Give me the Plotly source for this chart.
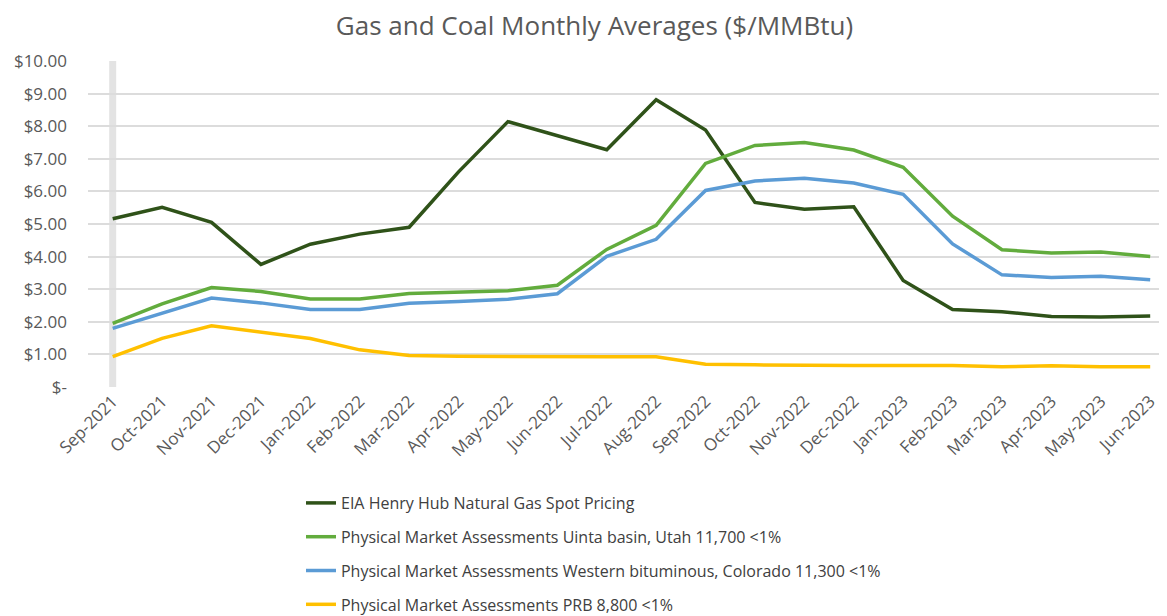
# Promedios mensuales de gas y carbon
import plotly.graph_objects as go

# Datos
months = [
    'Sep-2021', 'Oct-2021', 'Nov-2021', 'Dec-2021', 'Jan-2022', 'Feb-2022',
    'Mar-2022', 'Apr-2022', 'May-2022', 'Jun-2022', 'Jul-2022', 'Aug-2022',
    'Sep-2022', 'Oct-2022', 'Nov-2022', 'Dec-2022', 'Jan-2023', 'Feb-2023',
    'Mar-2023', 'Apr-2023', 'May-2023', 'Jun-2023'
]

henry_hub = [5.16, 5.51, 5.05, 3.76, 4.38, 4.69, 4.90, 6.60, 8.14, 7.70, 7.28,
             8.81, 7.88, 5.66, 5.45, 5.53, 3.27, 2.38, 2.31, 2.16, 2.15, 2.18]
uinta = [1.95, 2.55, 3.05, 2.93, 2.70, 2.70, 2.87, 2.90, 2.95, 3.12, 4.22,
         4.96, 6.86, 7.41, 7.50, 7.27, 6.74, 5.24, 4.21, 4.11, 4.14, 4.00]
western = [1.80, 2.27, 2.73, 2.58, 2.38, 2.38, 2.57, 2.62, 2.69, 2.86, 4.01,
           4.53, 6.03, 6.32, 6.40, 6.26, 5.91, 4.39, 3.44, 3.36, 3.40, 3.29]
prb = [0.93, 1.49, 1.88, 1.68, 1.49, 1.14, 0.97, 0.94, 0.93, 0.93, 0.93,
       0.93, 0.70, 0.68, 0.66, 0.66, 0.66, 0.66, 0.62, 0.65, 0.62, 0.62]

series_names = [
    'EIA Henry Hub Natural Gas Spot Pricing',
    'Physical Market Assessments Uinta basin, Utah 11,700 <1%',
    'Physical Market Assessments Western bituminous, Colorado 11,300 <1%',
    'Physical Market Assessments PRB 8,800 <1%'
]

y_ticks = [0, 1, 2, 3, 4, 5, 6, 7, 8, 9, 10]
y_tick_text = ['$-', '$1.00', '$2.00', '$3.00', '$4.00', '$5.00', '$6.00',
               '$7.00', '$8.00', '$9.00', '$10.00']

colores = ['#2f5219', '#62ac3d', '#5b9bd5', '#ffc000']
FONT = 'Open Sans'
GRIS = '#595959'

fig = go.Figure()
for nombre, valores, color in zip(series_names,
                                  [henry_hub, uinta, western, prb], colores):
    fig.add_trace(go.Scatter(
        x=list(range(len(months))),
        y=valores,
        mode='lines',
        name=nombre,
        legendgroup=nombre,
        line=dict(color=color, width=3.5)
    ))

# barra gris vertical en el primer mes
fig.add_shape(type='line', xref='x', yref='y', x0=0, x1=0, y0=0, y1=10,
              line=dict(color='#e3e3e3', width=7), layer='below')

# la pagina deja 8px de margen, por eso el tamano es 1159x608
fig.update_layout(
    width=1159,
    height=608,
    paper_bgcolor='white',
    plot_bgcolor='white',
    margin=dict(l=80, r=0, t=53, b=229),
    title=dict(text='Gas and Coal Monthly Averages ($/MMBtu)',
               x=0.506, xanchor='center', y=0.971, yanchor='middle',
               font=dict(family=FONT, size=26, color=GRIS)),
    font=dict(family=FONT, color=GRIS),
    showlegend=True,
    legend=dict(x=0.1974, xanchor='left', xref='paper',
                y=0.2138, yanchor='top', yref='container',
                orientation='v', tracegroupgap=10,
                font=dict(family=FONT, size=16, color='#404040'))
)
fig.update_xaxes(
    range=[-0.5, 21.34],
    tickmode='array',
    tickvals=list(range(len(months))),
    ticktext=months,
    tickangle=-45,
    tickfont=dict(family=FONT, size=17, color=GRIS),
    showgrid=False,
    showline=False,
    zeroline=False
)
fig.update_yaxes(
    range=[0, 10],
    tickmode='array',
    tickvals=y_ticks,
    ticktext=y_tick_text,
    tickfont=dict(family=FONT, size=17, color=GRIS),
    showgrid=True,
    gridcolor='#dcdcdc',
    gridwidth=1.5,
    zeroline=False,
    ticklabelstandoff=20
)
fig.write_html('out.html')
